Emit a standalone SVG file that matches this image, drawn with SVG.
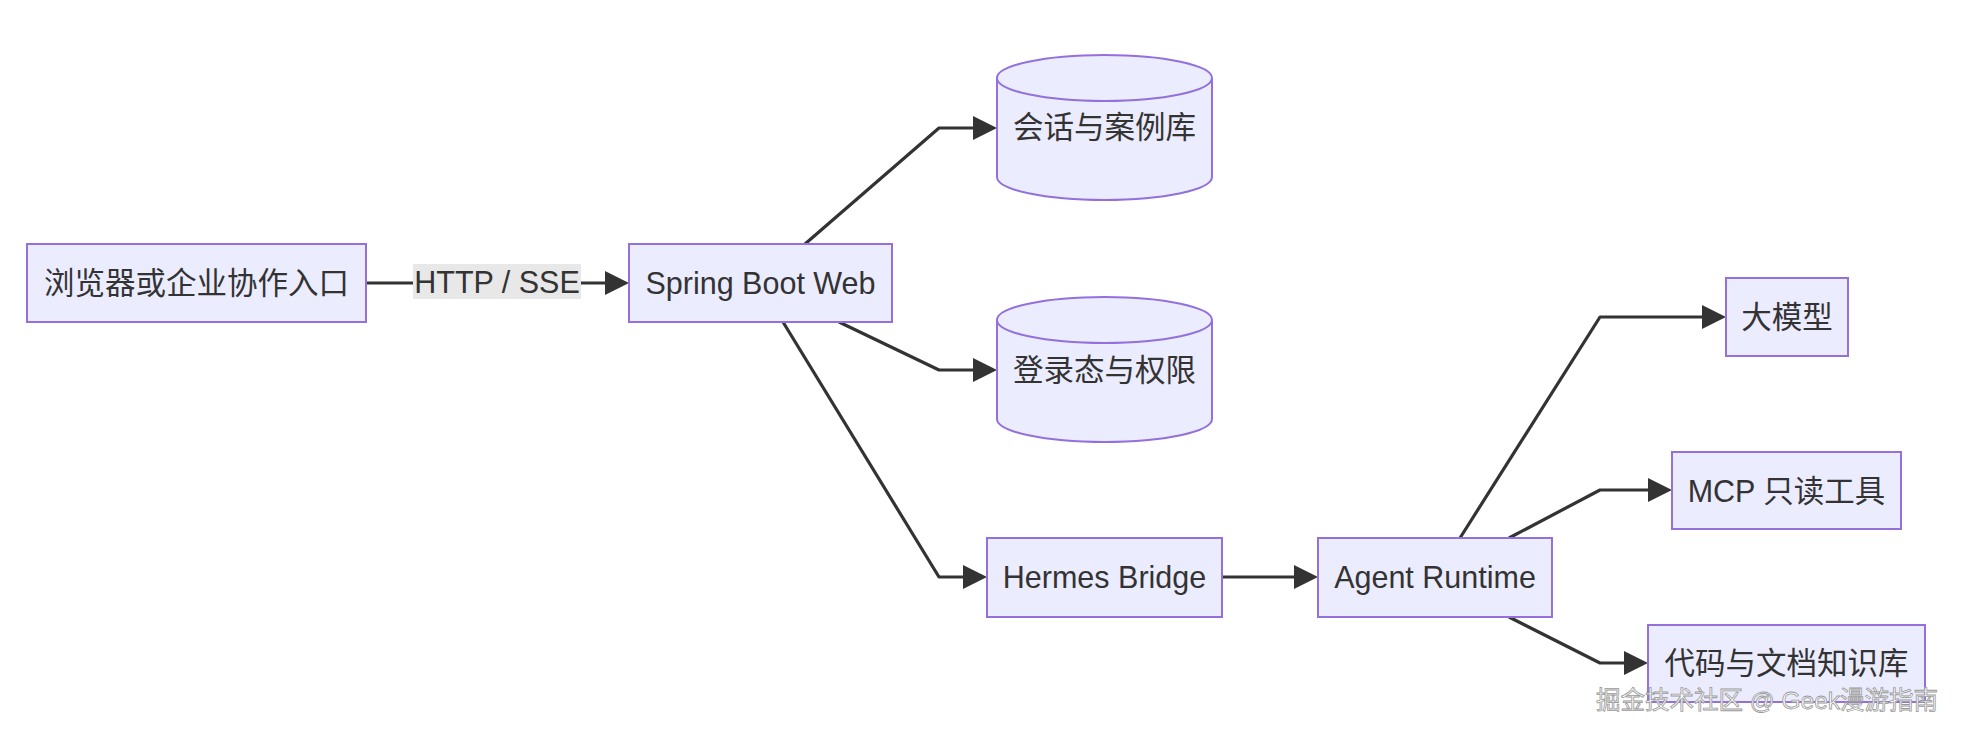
<svg xmlns="http://www.w3.org/2000/svg" width="1962" height="736" viewBox="0 0 1962 736">
<style>
.node rect, .node path { fill: #ECECFF; stroke: #9370DB; stroke-width: 2; }
.lbl { font-family: "Liberation Sans", "Noto Sans CJK SC", sans-serif; font-size: 30.5px; fill: #333333; text-anchor: middle; dominant-baseline: central; }
.edge { fill: none; stroke: #333333; stroke-width: 3.2; stroke-linejoin: round; }
.elbg { fill: #E8E8E8; }
.wm { font-family: "Liberation Sans", "Noto Sans CJK SC", sans-serif; font-size: 24.5px; fill: #FAFAFA; stroke: #9A9A9A; stroke-width: 0.8; }
</style>
<defs>
<marker id="arrow" viewBox="0 0 10 10" refX="5" refY="5" markerUnits="userSpaceOnUse" markerWidth="24" markerHeight="24" orient="auto">
<path d="M0,0 L10,5 L0,10 z" fill="#333333"/>
</marker>
</defs>
<rect x="0" y="0" width="1962" height="736" fill="#FFFFFF"/>

<g id="connectors">
<path class="edge" d="M366,283 L617,283" marker-end="url(#arrow)"/>
<path class="edge" d="M805,244 L939,128 L985,128" marker-end="url(#arrow)"/>
<path class="edge" d="M839,322 L939,370 L985,370" marker-end="url(#arrow)"/>
<path class="edge" d="M783,322 L939,577 L975,577" marker-end="url(#arrow)"/>
<path class="edge" d="M1222,577 L1306,577" marker-end="url(#arrow)"/>
<path class="edge" d="M1460,538 L1600,317 L1714,317" marker-end="url(#arrow)"/>
<path class="edge" d="M1509,538 L1600,490 L1660,490" marker-end="url(#arrow)"/>
<path class="edge" d="M1509,617 L1600,663 L1636,663" marker-end="url(#arrow)"/>
<g id="edge-label-http">
<rect class="elbg" x="413" y="264" width="168" height="35"/>
<text class="lbl" x="497" y="281.5">HTTP / SSE</text>
</g>
</g>

<g id="node-browser" class="node">
<rect x="27" y="244" width="339" height="78"/>
<text class="lbl" x="196.5" y="283">浏览器或企业协作入口</text>
</g>
<g id="node-spring" class="node">
<rect x="629" y="244" width="263" height="78"/>
<text class="lbl" x="760.5" y="283">Spring Boot Web</text>
</g>
<g id="node-sessiondb" class="node">
<path d="M997,78 a107.5,23 0 0 0 215,0 a107.5,23 0 0 0 -215,0 l0,99 a107.5,23 0 0 0 215,0 l0,-99"/>
<text class="lbl" x="1104.5" y="127">会话与案例库</text>
</g>
<g id="node-authdb" class="node">
<path d="M997,320 a107.5,23 0 0 0 215,0 a107.5,23 0 0 0 -215,0 l0,99 a107.5,23 0 0 0 215,0 l0,-99"/>
<text class="lbl" x="1104.5" y="370">登录态与权限</text>
</g>
<g id="node-hermes" class="node">
<rect x="987" y="538" width="235" height="79"/>
<text class="lbl" x="1104.5" y="577">Hermes Bridge</text>
</g>
<g id="node-agent" class="node">
<rect x="1318" y="538" width="234" height="79"/>
<text class="lbl" x="1435" y="577">Agent Runtime</text>
</g>
<g id="node-llm" class="node">
<rect x="1726" y="278" width="122" height="78"/>
<text class="lbl" x="1787" y="317">大模型</text>
</g>
<g id="node-mcp" class="node">
<rect x="1672" y="452" width="229" height="77"/>
<text class="lbl" x="1786.5" y="490.5">MCP 只读工具</text>
</g>
<g id="node-kb" class="node">
<rect x="1648" y="625" width="277" height="77"/>
<text class="lbl" x="1786.5" y="663">代码与文档知识库</text>
</g>

<text class="wm" x="1596" y="709">掘金技术社区 @ Geek漫游指南</text>
</svg>
